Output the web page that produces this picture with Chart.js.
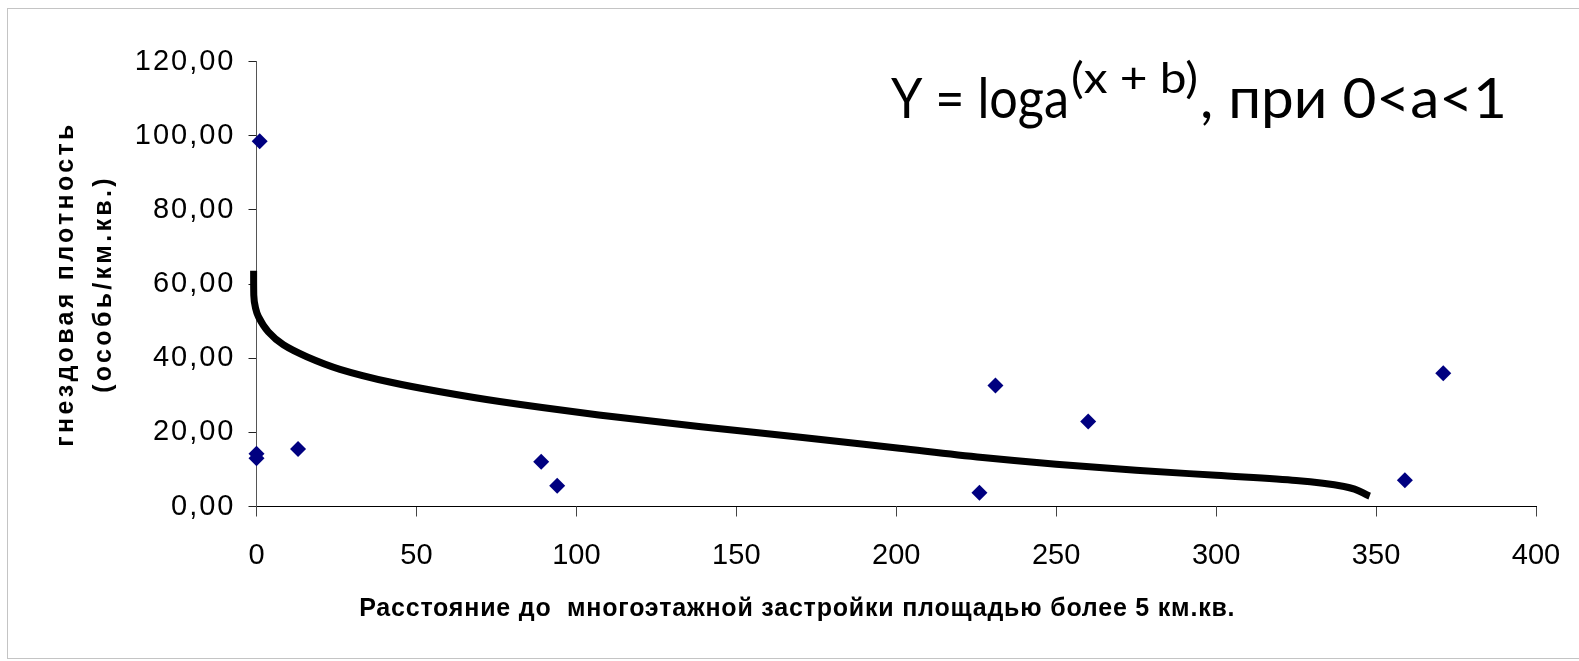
<!DOCTYPE html>
<html>
<head>
<meta charset="utf-8">
<script src="https://cdn.jsdelivr.net/npm/chart.js@4/dist/chart.umd.min.js"></script>
<style>
  html, body { margin: 0; padding: 0; background: #fff; }
  #wrap { position: relative; width: 1579px; height: 661px; }
  #frame { position: absolute; left: 7px; top: 8px; right: -2px; bottom: 2px;
           border: 1.5px solid #c4c4c4; border-right: none; pointer-events: none; }
  canvas { display: block; }
</style>
</head>
<body>
<div id="wrap">
  <canvas id="chart" width="1579" height="661"></canvas>
  <div id="frame"></div>
</div>
<script>
// Observed nesting density vs. distance to multi-storey development
const distances = [1, 0, 0, 13, 89, 94, 226, 231, 260, 359, 371];
const densities = [98.5, 14.2, 13.0, 15.5, 12.1, 5.6, 3.7, 32.6, 22.9, 7.1, 35.9];

// Hand-drawn logarithmic trend curve
const trendX = [-0.9, -0.85, -0.3, 0.6, 3.7, 8.4, 15.7, 26.1, 42, 57, 76, 107, 139, 170, 201, 227, 250, 275, 300, 325, 340, 348];
const trendY = [63.6, 57.0, 53.5, 51.2, 47.1, 43.6, 40.4, 37.0, 33.5, 31.0, 28.3, 24.7, 21.5, 18.7, 15.7, 13.2, 11.4, 9.8, 8.4, 7.0, 5.4, 2.8];

// Axis ticks
const xTickValues = [0, 50, 100, 150, 200, 250, 300, 350, 400];
const yTickValues = [0, 20, 40, 60, 80, 100, 120];

const xTitle = 'Расстояние до  многоэтажной застройки площадью более 5 км.кв.';
const yTitle = ['гнездовая плотность', '(особь/км.кв.)'];

// Formula caption: [text, font size, baseline shift, drawn width]
const formulaParts = [
  ['Y = loga', 57, 0, 178],
  ['(x + b)', 42, -25, 127],
  [', при 0<a<1', 57, 0, 307]
];

const PLOT = { left: 256.5, right: 1536, top: 61.5, bottom: 506.5 };
const W = 1579, H = 661;

const toPoints = (xs, ys) => xs.map((x, i) => ({ x, y: ys[i] }));

// Letter spacing / shifts for axis titles and tick labels
const TEXT_STYLE = {
  x: { title: '0.8px', labels: '0px', dx: -99 },
  y: { title: '3.3px', labels: '2px', dx: 0 }
};

const textTweaks = {
  id: 'textTweaks',
  beforeDraw(chart) {
    for (const id of Object.keys(TEXT_STYLE)) {
      const s = chart.scales[id];
      if (!s || s.__tweaked) continue;
      const st = TEXT_STYLE[id];
      const origTitle = s.drawTitle.bind(s);
      const origLabels = s.drawLabels.bind(s);
      s.drawTitle = function () {
        const ctx = this.ctx;
        ctx.save();
        ctx.letterSpacing = st.title;
        ctx.translate(st.dx, 0);
        origTitle();
        ctx.restore();
      };
      s.drawLabels = function (area) {
        const ctx = this.ctx;
        ctx.save();
        ctx.letterSpacing = st.labels;
        origLabels(area);
        ctx.restore();
      };
      s.__tweaked = true;
    }
  }
};

// Formula caption in the upper right of the plot
const formula = {
  id: 'formula',
  afterDraw(chart) {
    const ctx = chart.ctx;
    const base = 118;
    let x = 891;
    ctx.save();
    ctx.fillStyle = '#000';
    ctx.textBaseline = 'alphabetic';
    ctx.textAlign = 'left';
    for (const [text, size, shift, width] of formulaParts) {
      ctx.font = size + 'px Lato';
      const natural = ctx.measureText(text).width;
      ctx.save();
      ctx.translate(x, base + shift);
      ctx.scale(width / natural, 1);
      ctx.fillText(text, 0, 0);
      ctx.restore();
      x += width + 2;
    }
    ctx.restore();
  }
};

new Chart(document.getElementById('chart'), {
  type: 'scatter',
  data: {
    datasets: [
      {
        label: 'тренд',
        type: 'line',
        indexAxis: 'y',
        data: toPoints(trendX, trendY),
        borderColor: '#000',
        borderWidth: 7,
        borderCapStyle: 'butt',
        borderJoinStyle: 'round',
        cubicInterpolationMode: 'monotone',
        pointRadius: 0,
        fill: false,
        clip: false,
        order: 2
      },
      {
        label: 'гнездовая плотность',
        data: toPoints(distances, densities),
        pointStyle: 'rectRot',
        pointRadius: 8,
        pointHoverRadius: 8,
        backgroundColor: '#000080',
        borderColor: '#000080',
        borderWidth: 0,
        clip: false,
        order: 1
      }
    ]
  },
  options: {
    responsive: false,
    animation: false,
    events: [],
    layout: { padding: { left: 0, right: W - PLOT.right, top: PLOT.top, bottom: 0 } },
    plugins: { legend: { display: false }, tooltip: { enabled: false } },
    scales: {
      x: {
        type: 'linear',
        min: 0, max: 400,
        afterBuildTicks: s => { s.ticks = xTickValues.map(v => ({ value: v })); },
        afterFit: s => { s.height = H - PLOT.bottom; s.paddingLeft = 0; s.paddingRight = 0; },
        ticks: {
          color: '#000',
          font: { family: 'Liberation Sans', size: 29 },
          padding: 22
        },
        grid: { drawOnChartArea: false, drawTicks: true, tickLength: 10, color: '#444', lineWidth: 1 },
        border: { display: true, color: '#000', width: 1 },
        title: {
          display: true,
          text: xTitle,
          color: '#000',
          font: { family: 'Liberation Sans', size: 25, weight: 'bold', lineHeight: 1.2 },
          padding: { top: 0, bottom: 37 }
        }
      },
      y: {
        type: 'linear',
        min: 0, max: 120,
        afterBuildTicks: s => { s.ticks = yTickValues.map(v => ({ value: v })); },
        afterFit: s => { s.width = PLOT.left; s.paddingTop = 0; s.paddingBottom = 0; },
        ticks: {
          color: '#000',
          font: { family: 'Liberation Sans', size: 29 },
          padding: 13,
          callback: v => v.toFixed(2).replace('.', ',')
        },
        grid: { drawOnChartArea: false, drawTicks: true, tickLength: 8, color: '#222', lineWidth: 1 },
        border: { display: true, color: '#555', width: 1 },
        title: {
          display: true,
          text: yTitle,
          color: '#000',
          font: { family: 'Liberation Sans', size: 25, weight: 'bold', lineHeight: 38 / 25 },
          padding: { top: 66.5 - 19, bottom: 0 }
        }
      }
    }
  },
  plugins: [textTweaks, formula]
});
</script>
</body>
</html>
